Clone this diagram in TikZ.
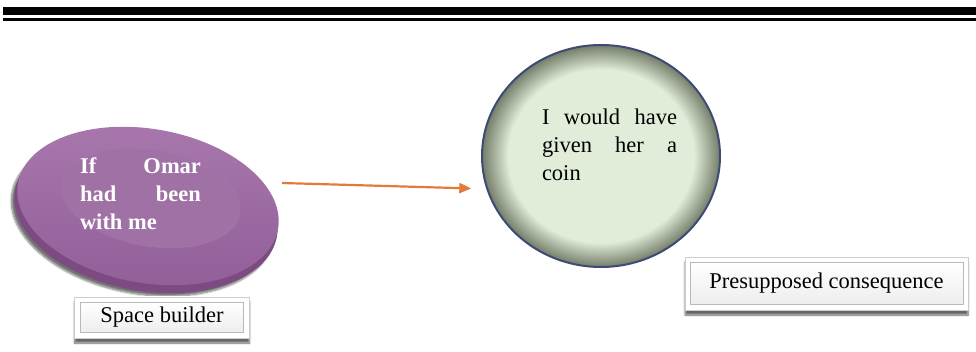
\documentclass[tikz,border=0pt]{standalone}
\usepackage{fontspec}
\setmainfont{Liberation Serif}
\usetikzlibrary{shapes.geometric,shadows.blur,arrows.meta}

\definecolor{discTop}{HTML}{93609A}
\definecolor{discLight}{HTML}{A878AD}
\definecolor{discInner}{HTML}{A071A5}
\definecolor{discRim}{HTML}{7C4B82}
\definecolor{coinFill}{HTML}{E1ECD9}
\definecolor{coinEdge}{HTML}{737D68}
\definecolor{coinLine}{HTML}{3E4B77}
\definecolor{arrowOrange}{HTML}{E07B39}

% light centre, darker ring close to the border
\pgfdeclareradialshading{ringshade}{\pgfpoint{0bp}{0bp}}{%
  color(0bp)=(coinFill); color(19.5bp)=(coinFill);
  color(25bp)=(coinEdge); color(50bp)=(coinEdge)}

\begin{document}
\begin{tikzpicture}[x=1pt,y=-1pt,
    bigtext/.style={font=\fontsize{22.5}{27.7}\selectfont, inner sep=0pt},
    outerbox/.style={draw=gray!40, fill=white,
      blur shadow={shadow xshift=0pt, shadow yshift=-5pt, shadow blur steps=8, shadow opacity=60}},
    innerbox/.style={draw=gray!55, top color=white, bottom color=gray!14, bigtext}]
	\useasboundingbox (0,0) rectangle (976,352);

	% double rule at the top
	\draw [line width=8] (3,11) -- (976,11);
	\draw [line width=2.5] (3,19.5) -- (976,19.5);

	% purple disc
	\node [ellipse, minimum width=266, minimum height=156, rotate=-10, fill=discRim,
		blur shadow={shadow xshift=-3pt, shadow yshift=-3pt, shadow blur steps=10, shadow opacity=55}] (rim) at (146,213) {};
	\node [ellipse, minimum width=264, minimum height=154, rotate=-10,
		top color=discLight, bottom color=discTop] (disc) at (148,206) {};
	\node [ellipse, minimum width=180, minimum height=96, rotate=-10, fill=discInner, draw=discLight] (core) at (151,198) {};
	\node [text width=121, align=justify, inner sep=0pt, text=white,
		font=\bfseries\fontsize{22.5}{28}\selectfont] (ifclause) at (140.5,194)
		{If Omar\linebreak had been\linebreak with me};

	% green circle
	\node [ellipse, draw=coinLine, line width=2, minimum width=238, minimum height=222, shading=ringshade] (coin) at (601,156) {};
	\node [bigtext, text width=135, align=justify] (result) at (609.5,145)
		{I would have\linebreak given her a\linebreak coin};

	% labels
	\node [outerbox, minimum width=175, minimum height=41] (sbox) at (162,317.5) {};
	\node [innerbox, minimum width=163, minimum height=30] (slabel) at (162,317.5) {Space builder};
	\node [outerbox, minimum width=283, minimum height=53] (pbox) at (826.5,283.5) {};
	\node [innerbox, minimum width=273, minimum height=42] (plabel) at (826.5,283.5) {Presupposed consequence};

	\coordinate (from) at (282,183);
	\draw [draw=arrowOrange, line width=2.2, -{Triangle[length=12pt,width=10pt]}, shorten >=15pt] (from) -- (coin.196);
\end{tikzpicture}
\end{document}
